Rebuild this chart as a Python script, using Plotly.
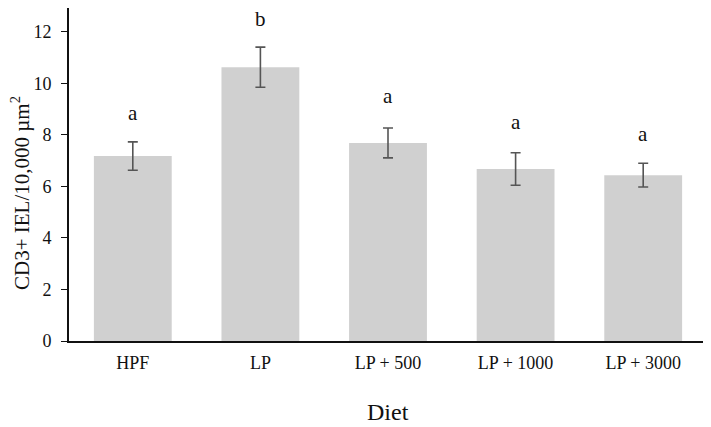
import plotly.graph_objects as go

categories = ["HPF", "LP", "LP + 500", "LP + 1000", "LP + 3000"]
means = [7.18, 10.63, 7.69, 6.68, 6.44]
errors = [0.55, 0.78, 0.58, 0.63, 0.46]
letters = ["a", "b", "a", "a", "a"]
letter_y = [8.87, 12.52, 9.5, 8.52, 8.03]

SERIF = "Liberation Serif, Times New Roman, serif"

fig = go.Figure()
fig.add_trace(go.Bar(
    x=categories, y=means,
    marker=dict(color="#D0D0D0", line=dict(width=0)),
    width=0.61,
    error_y=dict(type="data", array=errors, visible=True,
                 color="#555555", thickness=1.6, width=5),
))

for c, l, ly in zip(categories, letters, letter_y):
    fig.add_annotation(x=c, y=ly, text=l, showarrow=False,
                       font=dict(family=SERIF, size=21, color="#111111"),
                       xref="x", yref="y", yanchor="middle")

fig.add_annotation(x=0.5, y=-0.213, xref="paper", yref="paper", text="Diet",
                   showarrow=False, font=dict(family=SERIF, size=24, color="#111111"),
                   yanchor="middle")

fig.add_annotation(x=-0.077, y=0.444, xref="paper", yref="paper",
                   text="CD3+ IEL/10,000 µm<sup>2</sup>", textangle=-90,
                   showarrow=False, font=dict(family=SERIF, size=21, color="#111111"),
                   xanchor="center", yanchor="middle")

# page body has an 8px default margin, so the figure is sized to fit the window
fig.update_layout(
    width=703, height=419,
    margin=dict(l=61, r=4, t=0, b=86),
    plot_bgcolor="white", paper_bgcolor="white",
    showlegend=False,
    bargap=0.39,
    xaxis=dict(
        range=[-0.5, 4.5], automargin=False,
        showline=True, linecolor="#111111", linewidth=1.6,
        ticks="outside", ticklen=5, tickcolor="rgba(0,0,0,0)",
        tickfont=dict(family=SERIF, size=18, color="#111111"),
        showgrid=False, zeroline=False,
    ),
    yaxis=dict(
        range=[0, 12.93], tickvals=[0, 2, 4, 6, 8, 10, 12], automargin=False,
        showline=True, linecolor="#111111", linewidth=1.6,
        ticks="outside", ticklen=6, tickcolor="#111111", tickwidth=1.4,
        ticklabelstandoff=6,
        tickfont=dict(family=SERIF, size=18, color="#111111"),
        showgrid=False, zeroline=False,
    ),
)

fig.write_html("out.html")
